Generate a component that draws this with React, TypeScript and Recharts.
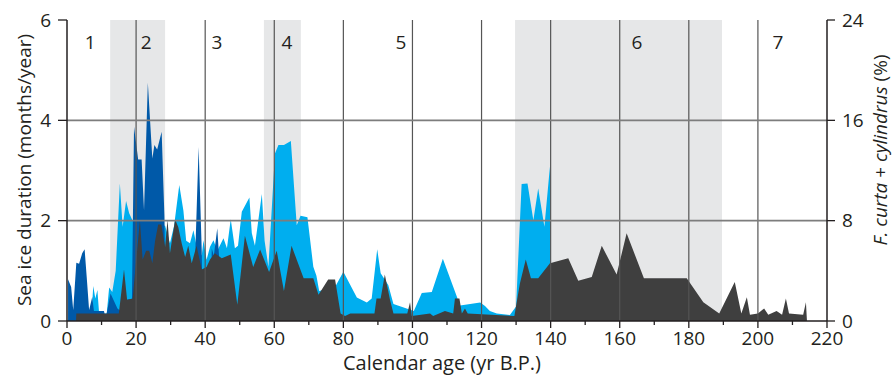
import React from 'react';
import { ComposedChart, Area, XAxis, YAxis, ReferenceArea, ReferenceLine, ReferenceDot } from 'recharts';

// [age (yr B.P.), sea ice duration (months/year)]
const lightBlueIce: [number, number][] = [
  [7.0, 0], [7.6, 0.7], [8.2, 0.45], [8.8, 0.62], [9.3, 0.15], [11.5, 0.15], [12.2, 0.67], [13.1, 0.58], [14.1, 1.0],
  [15.3, 2.74], [16.1, 1.88], [17.1, 2.39], [18.0, 2.15], [19.0, 2.0], [28.4, 1.9], [29.8, 1.55], [31.0, 1.9],
  [32.5, 2.71], [33.7, 2.2], [34.5, 1.6], [35.6, 1.55], [36.6, 1.81], [37.5, 1.5], [39.0, 1.3], [39.5, 1.61],
  [40.4, 1.22], [41.4, 1.48], [42.4, 1.61], [43.5, 1.4], [45.3, 1.65], [46.3, 1.45], [47.4, 2.03], [48.6, 1.45],
  [49.5, 1.5], [50.6, 2.18], [52.8, 2.46], [53.5, 1.75], [54.4, 1.5], [56.4, 2.53], [57.2, 1.6], [58.3, 1.08],
  [60.2, 3.34], [61.2, 3.51], [62.8, 3.51], [64.8, 3.59], [66.5, 1.91], [67.6, 2.1], [69.6, 2.07], [71.3, 1.08],
  [72.2, 0.9], [73.0, 0.6], [77.6, 0.68], [80.0, 0.98], [83.9, 0.47], [86.8, 0.37], [88.2, 0.45], [89.8, 1.43],
  [90.8, 0.95], [93.0, 0.72], [94.5, 0.34], [98.3, 0.25], [100.4, 0.2], [102.7, 0.56], [105.6, 0.58], [108.8, 1.24],
  [113.8, 0.31], [119.6, 0.37], [121.0, 0.3], [122.4, 0.2], [124.4, 0.15], [128.2, 0.12], [130.0, 0.29],
  [131.6, 2.73], [133.3, 2.74], [135.0, 2.01], [136.4, 2.64], [138.2, 1.88], [139.8, 3.08], [140.2, 0],
];

// [age (yr B.P.), sea ice duration (months/year)]
const darkBlueIce: [number, number][] = [
  [0.3, 0.83], [1.2, 0.68], [1.8, 0.22], [2.7, 1.16], [3.5, 1.14], [4.4, 1.35], [5.1, 1.43], [5.7, 0.88], [6.4, 0.22],
  [7.3, 0.48], [7.8, 0.2], [10.7, 0.2], [11.2, 0.05], [11.9, 0.3], [12.6, 0.55], [13.6, 0.4], [14.6, 0.25],
  [15.5, 0.2], [17.5, 0.43], [18.8, 0.43], [19.4, 3.87], [20.6, 3.22], [21.6, 3.22], [22.3, 2.21], [23.4, 4.75],
  [24.7, 3.24], [25.3, 3.51], [26.1, 3.42], [27.4, 3.77], [28.2, 2.08], [28.6, 0], [36.6, 0], [37.2, 1.5],
  [38.1, 3.47], [39.0, 1.41], [39.3, 0], [41.6, 0], [41.9, 1.45], [42.5, 1.3], [43.5, 1.85], [44.1, 1.2], [44.4, 0],
];

// [age (yr B.P.), F. curta + cylindrus (%)]
const curtaPct: [number, number][] = [
  [0, 0], [2.6, 0], [2.7, 0.6], [15.0, 0.6], [16.5, 4.1], [17.4, 1.7], [19.0, 1.8], [21.1, 8.0], [21.9, 4.9],
  [22.9, 5.6], [23.8, 5.6], [24.7, 4.6], [25.5, 6.4], [26.4, 7.7], [27.3, 7.7], [28.4, 5.9], [29.1, 8.1],
  [29.8, 5.4], [31.3, 8.1], [32.2, 7.5], [33.2, 6.2], [34.2, 5.1], [35.1, 6.0], [36.1, 4.6], [37.5, 6.0],
  [39.0, 4.1], [40.4, 4.3], [41.4, 4.9], [42.8, 5.4], [44.8, 5.0], [47.4, 5.3], [49.3, 1.3], [51.5, 6.8],
  [53.9, 4.3], [55.9, 5.7], [58.5, 3.9], [60.7, 5.6], [62.8, 2.4], [65.0, 6.0], [68.5, 3.4], [71.3, 3.4],
  [72.8, 2.1], [75.6, 3.3], [77.6, 3.3], [79.2, 0.6], [80.5, 0.4], [82.0, 0.6], [89.0, 0.6], [89.6, 1.8],
  [90.8, 1.8], [92.0, 3.7], [93.5, 1.7], [94.5, 0.6], [98.5, 0.6], [99.3, 1.5], [99.8, 0.4], [105.1, 0.6],
  [106.0, 0.4], [109.4, 0.8], [111.8, 0.6], [112.3, 1.8], [113.6, 1.8], [114.3, 0.6], [115.2, 1.0], [116.0, 0.6],
  [129.5, 0.4], [131.1, 3.0], [132.8, 4.9], [134.3, 3.4], [136.4, 3.4], [139.8, 4.6], [145.1, 5.0], [148.0, 3.2],
  [151.9, 3.5], [154.8, 6.0], [159.1, 3.7], [162.0, 7.0], [167.0, 3.4], [179.4, 3.4], [184.2, 1.5], [188.8, 0.6],
  [193.3, 3.1], [195.2, 0.6], [196.8, 1.9], [197.7, 0.5], [200.0, 0.6], [201.8, 1.0], [203.0, 0.5], [205.4, 0.8],
  [207.0, 0.5], [208.1, 1.8], [209.0, 0.6], [213.1, 0.5], [213.9, 1.5], [214.2, 0],
];

const shadedZones: [number, number][] = [[12.5, 28.4], [57.0, 67.7], [129.7, 189.6]];
const zoneLabels = ['1', '2', '3', '4', '5', '6', '7'];
const zoneLabelAges = [6.7, 22.9, 43.4, 63.7, 96.7, 165, 205.8];
const xTicks = [0, 10, 20, 30, 40, 50, 60, 70, 80, 90, 100, 110, 120, 130, 140, 150, 160, 170, 180, 190, 200, 210, 220];
const xGridAges = [20, 40, 60, 80, 100, 120, 140, 160, 180, 200];
const leftTicks = [0, 2, 4, 6];
const rightTicks = [0, 8, 16, 24];
const yGridValues = [2, 4];

type Row = { age: number; light?: number | null; dark?: number | null; curta?: number | null };

function buildRows(): Row[] {
  const map = new Map<number, Row>();
  const put = (series: [number, number][], key: 'light' | 'dark' | 'curta') => {
    series.forEach(([a, v]) => {
      const r = map.get(a) || { age: a, light: null, dark: null, curta: null };
      r[key] = v;
      map.set(a, r);
    });
  };
  put(lightBlueIce, 'light');
  put(darkBlueIce, 'dark');
  put(curtaPct, 'curta');
  return Array.from(map.values()).sort((a, b) => a.age - b.age);
}

const rows = buildRows();

const FONT = '"Open Sans", "Noto Sans", sans-serif';
const INK = '#231f20';

const XTick = (props: any) => {
  const { x, y, payload } = props;
  const v = payload.value as number;
  const major = v % 20 === 0;
  return (
    <g>
      <line x1={x} x2={x} y1={y} y2={y + (major ? 7 : 4)} stroke={INK} strokeWidth={1.3} />
      {major && (
        <text x={x} y={y + 24} textAnchor="middle" fontFamily={FONT} fontSize={19} fill={INK}>
          {v}
        </text>
      )}
    </g>
  );
};

export default function App() {
  return (
    <div style={{ position: 'absolute', left: 0, top: 0, width: 895, height: 380, background: '#fff' }}>
      <ComposedChart width={895} height={380} data={rows} margin={{ top: 20, right: 0, bottom: 0, left: 0 }}>
        {shadedZones.map(([a, b], i) => (
          <ReferenceArea key={'z' + i} x1={a} x2={b} yAxisId="left" fill="#e6e7e8" fillOpacity={1} stroke="none" ifOverflow="hidden" />
        ))}
        <XAxis
          dataKey="age"
          type="number"
          domain={[0, 220]}
          ticks={xTicks}
          interval={0}
          tickLine={false}
          tickSize={0}
          tickMargin={0}
          tick={<XTick />}
          height={59}
          axisLine={{ stroke: INK, strokeWidth: 1.5 }}
          label={{
            content: () => (
              <text x={442} y={370} textAnchor="middle" fontFamily={FONT} fontSize={20} fontWeight={500} fill={INK}>
                Calendar age (yr B.P.)
              </text>
            ),
          }}
        />
        <YAxis
          yAxisId="left"
          domain={[0, 6]}
          ticks={leftTicks}
          interval={0}
          width={67}
          tickSize={9}
          tickMargin={7}
          tick={{ fontFamily: FONT, fontSize: 19, fill: INK }}
          tickLine={{ stroke: INK, strokeWidth: 1.3 }}
          axisLine={{ stroke: INK, strokeWidth: 1.5 }}
          label={{
            content: () => (
              <text x={24} y={170} transform="rotate(-90, 24, 170)" textAnchor="middle" dominantBaseline="central" fontFamily={FONT} fontSize={19} fontWeight={500} fill={INK}>
                Sea ice duration (months/year)
              </text>
            ),
          }}
        />
        <YAxis
          yAxisId="right"
          orientation="right"
          domain={[0, 24]}
          ticks={rightTicks}
          interval={0}
          width={68}
          tickSize={8}
          tickMargin={7}
          tick={{ fontFamily: FONT, fontSize: 19, fill: INK }}
          tickLine={{ stroke: INK, strokeWidth: 1.3 }}
          axisLine={{ stroke: INK, strokeWidth: 1.5 }}
          label={{
            content: () => (
              <text x={880} y={150} transform="rotate(-90, 880, 150)" textAnchor="middle" dominantBaseline="central" fontFamily={FONT} fontSize={19} fontWeight={500} fill={INK}>
                <tspan fontStyle="italic">F. curta</tspan>
                <tspan> + </tspan>
                <tspan fontStyle="italic">cylindrus</tspan>
                <tspan> (%)</tspan>
              </text>
            ),
          }}
        />
        <Area yAxisId="left" type="linear" dataKey="light" connectNulls stroke="none" fill="#00aeef" fillOpacity={1} isAnimationActive={false} dot={false} activeDot={false} />
        <Area yAxisId="left" type="linear" dataKey="dark" connectNulls stroke="none" fill="#0059a8" fillOpacity={1} isAnimationActive={false} dot={false} activeDot={false} />
        <Area yAxisId="right" type="linear" dataKey="curta" connectNulls stroke="none" fill="#3f3f3f" fillOpacity={1} isAnimationActive={false} dot={false} activeDot={false} />
        {xGridAges.map((a) => (
          <ReferenceLine key={'gx' + a} x={a} yAxisId="left" stroke="#555555" strokeWidth={1.2} zIndex={450} />
        ))}
        {yGridValues.map((v) => (
          <ReferenceLine key={'gy' + v} y={v} yAxisId="left" stroke="#7d7d7d" strokeWidth={1.6} zIndex={450} />
        ))}
        {zoneLabels.map((t, i) => (
          <ReferenceDot
            key={'zl' + t}
            x={zoneLabelAges[i]}
            y={5.56}
            yAxisId="left"
            r={1}
            fill="none"
            stroke="none"
            zIndex={460}
            label={{ value: t, position: 'center', fontFamily: FONT, fontSize: 19, fill: INK }}
          />
        ))}
      </ComposedChart>
    </div>
  );
}
